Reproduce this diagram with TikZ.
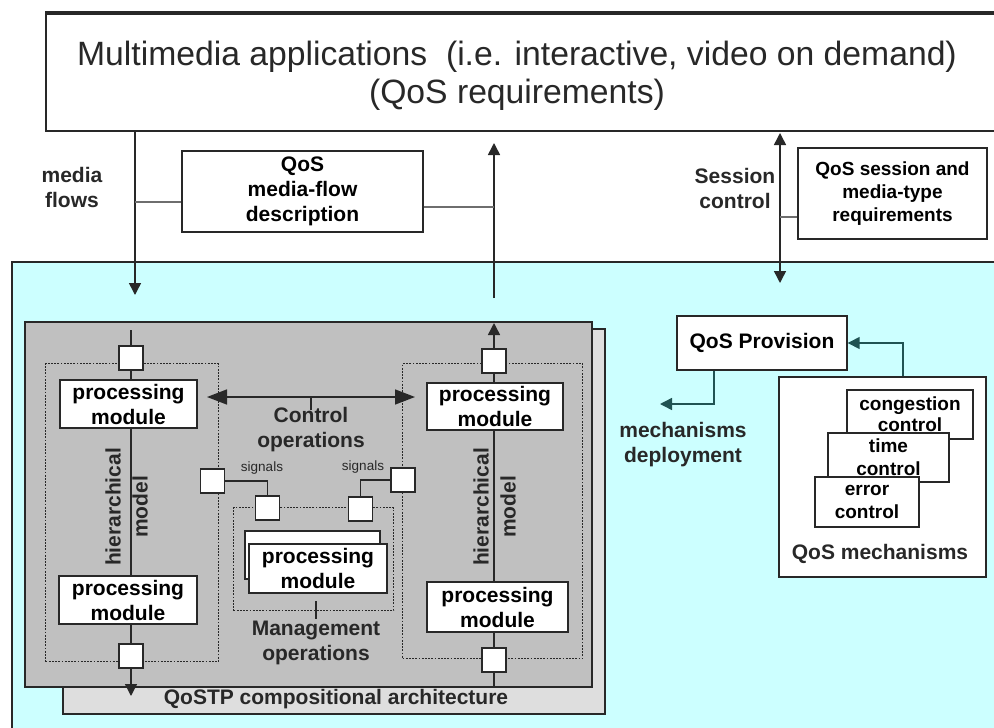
\documentclass[tikz,border=0pt]{standalone}
\usepackage{fontspec}
\setmainfont{Liberation Sans}
\usetikzlibrary{arrows.meta}
\definecolor{cyanbg}{RGB}{204,255,255}
\definecolor{archgray}{RGB}{192,192,192}
\definecolor{backgray}{RGB}{222,222,222}
\definecolor{linec}{RGB}{40,40,40}
\definecolor{linkgray}{RGB}{110,110,110}
\newcommand\labfont{\fontsize{21}{25}\selectfont\bfseries}
\newcommand\smlabfont{\fontsize{19}{23}\selectfont\bfseries}
\begin{document}
\begin{tikzpicture}[x=1pt,y=-1pt,
  box/.style={draw=linec, line width=1.4pt, fill=white, inner sep=0pt, align=center, font=\labfont},
  modbox/.style={box, line width=1.7pt},
  smbox/.style={box, font=\smlabfont},
  port/.style={draw=linec, line width=1.4pt, fill=white, minimum width=24pt, minimum height=24pt, inner sep=0pt},
  frame/.style={draw=linec, line width=1.2pt, dash pattern=on 1.8pt off 1.4pt, inner sep=0pt},
  lab/.style={font=\labfont, align=center, inner sep=0pt, text=linec},
  sig/.style={font=\fontsize{13.5}{16}\selectfont, inner sep=0pt, text=linec},
  wire/.style={draw=linec, line width=1.5pt},
  graylink/.style={draw=linkgray, line width=2.6pt},
  arr/.style={wire, -{Triangle[length=12pt,width=12pt]}},
  darr/.style={wire, {Triangle[length=12pt,width=12pt]}-{Triangle[length=12pt,width=12pt]}},
  carr/.style={wire, {Triangle[length=20pt,width=15pt]}-{Triangle[length=20pt,width=15pt]}}]
\useasboundingbox (0,0) rectangle (994,728);
\clip (0,0) rectangle (994,728);
\fill[white] (0,0) rectangle (994,728);

% QoSTP region (cyan)
\node[draw=linec, line width=1.8pt, fill=cyanbg, anchor=north west, minimum width=1010pt, minimum height=490pt, inner sep=0pt] (region) at (11,261) {};

% application box
\node[draw=linec, line width=1.6pt, fill=white, anchor=north west, minimum width=975pt, minimum height=117pt, inner sep=0pt] (app) at (45,13) {};
\draw[linec, line width=3.2pt] (app.north west) -- (app.north east);
\node[font=\fontsize{33.7}{38}\selectfont, align=center, inner sep=0pt, text=linec] (apptitle) at (517,76)
  {Multimedia applications\ \ (i.e. interactive, video on demand)\\(QoS requirements)};

% media flow side
\coordinate (mfend) at (135,295);
\coordinate (mftop) at (135,130);
\draw[arr] (mftop) -- (mfend);
\node[lab] (mflab) at (72,187) {media\\flows};
\node[box, minimum width=241pt, minimum height=81pt] (mfd) at (302.5,191.5) {QoS\\media-flow\\description};
\coordinate (mfl) at (135,202);
\draw[graylink] (mfl) -- (mfl -| mfd.west);
\coordinate (upbot) at (494,298);
\coordinate (uptip) at (494,143);
\draw[arr] (upbot) -- (uptip);
\coordinate (mfr) at (494,207);
\draw[graylink] (mfr -| mfd.east) -- (mfr);

% session control
\coordinate (sctop) at (780,133);
\coordinate (scbot) at (780,283);
\draw[darr] (scbot) -- (sctop);
\node[lab] (sclab) at (735,188) {Session\\control};
\node[smbox, minimum width=189pt, minimum height=91pt] (ssb) at (892.5,193.5) {QoS session and\\media-type\\requirements};
\coordinate (scl) at (780,217);
\draw[draw=linkgray, line width=1.6pt] (scl) -- (scl -| ssb.west);

% architecture boxes
\node[draw=linec, line width=1.6pt, fill=backgray, anchor=north west, minimum width=542pt, minimum height=385pt, inner sep=0pt] (archback) at (62,328) {};
\node[draw=linec, line width=1.6pt, fill=archgray, anchor=north west, minimum width=567pt, minimum height=365pt, inner sep=0pt] (arch) at (24,321) {};
\node[lab] (archlab) at (336,699) {QoSTP compositional architecture};

% dotted frames
\node[frame, anchor=north west, minimum width=173pt, minimum height=298pt] (lf) at (45,363) {};
\node[frame, anchor=north west, minimum width=180pt, minimum height=295pt] (rf) at (402,363) {};
\node[frame, anchor=north west, minimum width=160pt, minimum height=103pt] (mgf) at (233,507) {};

% modules
\node[modbox, minimum width=137pt, minimum height=48pt] (pm1) at (128.5,404) {processing\\module};
\node[modbox, minimum width=138pt, minimum height=48pt] (pm2) at (128,600) {processing\\module};
\node[modbox, minimum width=136pt, minimum height=47pt] (pm3) at (495,406.5) {processing\\module};
\node[modbox, minimum width=141pt, minimum height=50pt] (pm4) at (497.5,607) {processing\\module};
\node[modbox, minimum width=135pt, minimum height=48pt] (pm5b) at (312.5,555) {};
\node[modbox, minimum width=138pt, minimum height=49pt] (pm5) at (318,568.5) {processing\\module};

% ports
\node[port] (s1) at (131,358) {};
\node[port] (s2) at (131,656) {};
\node[port] (s3) at (494,361) {};
\node[port] (s4) at (494,660) {};
\node[port] (s5) at (212.5,481) {};
\node[port] (s6) at (403,480) {};
\node[port] (s7) at (267.5,508) {};
\node[port] (s8) at (360.5,509) {};

% left column
\coordinate (lin) at (131,330);
\coordinate (lout) at (131,696);
\draw[wire] (lin) -- (s1.north);
\draw[wire] (s1.south) -- (s1.south |- pm1.north);
\draw[wire] (s1.south |- pm1.south) -- (s1.south |- pm2.north);
\draw[wire] (s2.north |- pm2.south) -- (s2.north);
\draw[arr] (s2.south) -- (lout);
\node[lab, rotate=90] (hl1) at (113,507) {hierarchical};
\node[lab, rotate=90] (hl2) at (140,507) {model};

% right column
\coordinate (rout) at (494,323);
\coordinate (rin) at (494,686);
\draw[arr] (s3.north) -- (rout);
\draw[wire] (s3.south) -- (s3.south |- pm3.north);
\draw[wire] (s3.south |- pm3.south) -- (s3.south |- pm4.north);
\draw[wire] (s4.north |- pm4.south) -- (s4.north);
\draw[wire] (s4.south) -- (rin);
\node[lab, rotate=90] (hr1) at (481,507) {hierarchical};
\node[lab, rotate=90] (hr2) at (508,507) {model};

% control operations
\coordinate (cl) at (207,397);
\coordinate (cr) at (415,397);
\coordinate (ct) at (311,397);
\draw[carr] (cl) -- (cr);
\draw[wire] (ct) -- ++(0,13);
\node[lab] (ctrllab) at (311,430) {Control\\operations};

% signals
\draw[wire] (s5.east) -| (s7.north);
\draw[wire] (s6.west) -| (s8.north);
\node[sig] (sigl) at (262,468) {signals};
\node[sig] (sigr) at (363,467) {signals};

% management
\coordinate (mt1) at (316,601);
\coordinate (mt2) at (316,619);
\draw[wire] (mt1) -- (mt2);
\node[lab] (mgmtlab) at (316,643) {Management\\operations};

% QoS provision side
\node[box, minimum width=170pt, minimum height=54pt] (qp) at (762,343) {QoS Provision};
\coordinate (mdtip) at (660,404);
\draw[arr, draw=linec!80!cyan] (qp.south -| 714,0) |- (mdtip);
\node[lab] (mdlab) at (683,445) {mechanisms\\deployment};
\node[box, minimum width=207pt, minimum height=200pt] (qm) at (882.5,477) {};
\draw[arr, draw=linec!80!cyan] (qm.north -| 903,0) |- (qp.east);
\node[smbox, minimum width=126pt, minimum height=49pt] (cc) at (910,414.5) {\raisebox{-3pt}{congestion}\\\raisebox{-1pt}{control}};
\node[smbox, minimum width=121pt, minimum height=49pt] (tc) at (888.5,457.5) {time\\control};
\node[smbox, minimum width=104pt, minimum height=50pt] (ec) at (867,502) {error\\control};
\node[lab] (qmlab) at (880,554) {QoS mechanisms};
\end{tikzpicture}
\end{document}
